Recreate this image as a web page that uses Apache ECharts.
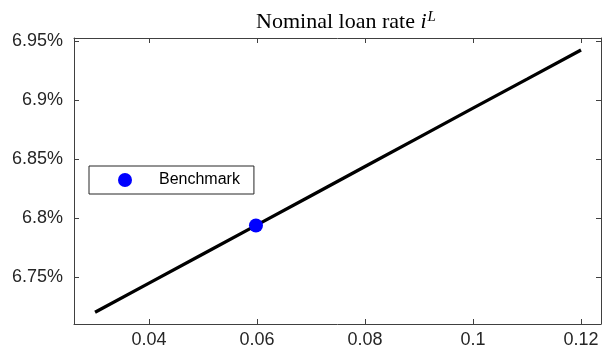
<!DOCTYPE html>
<html>
<head>
<meta charset="utf-8">
<script src="https://cdn.jsdelivr.net/npm/echarts@6/dist/echarts.min.js"></script>
<style>
  html, body { margin: 0; padding: 0; background: #fff; }
  #chart { width: 602px; height: 362px; }
</style>
</head>
<body>
<div id="chart"></div>
<script>
// Reserve-requirement grid (x) and the resulting nominal loan rate, in percent
const reserveRatio = [0.03, 0.04, 0.05, 0.06, 0.07, 0.08, 0.09, 0.10, 0.11, 0.12];
const loanRate = [6.7203, 6.7450, 6.7697, 6.7943, 6.8190, 6.8437, 6.8684, 6.8931, 6.9177, 6.9424];

// Benchmark calibration point
const benchmarkX = [0.0598];
const benchmarkY = [6.7938];

// Axis ticks
const xTicks = [0.04, 0.06, 0.08, 0.10, 0.12];
const yTicks = [6.75, 6.80, 6.85, 6.90, 6.95];

const X_MIN = 0.0261, X_MAX = 0.1237;
const Y_MIN = 6.7104, Y_MAX = 6.9525;

const AXIS_COLOR = '#404040';
const TEXT_COLOR = '#262626';
const SANS = 'Liberation Sans, Arial, Helvetica, sans-serif';
const SERIF = 'Liberation Serif, Times New Roman, serif';

function fmtX(v) { return String(+(+v).toFixed(3)); }
function fmtY(v) { return String(+(+v).toFixed(2)) + '%'; }

function xAxisDef(pos, showLabels) {
  return {
    type: 'value', position: pos, min: X_MIN, max: X_MAX,
    axisLine: { show: true, onZero: false, lineStyle: { color: AXIS_COLOR, width: 1 } },
    axisTick: { show: true, inside: true, length: 5, customValues: xTicks, lineStyle: { color: AXIS_COLOR } },
    axisLabel: {
      show: showLabels, customValues: xTicks, formatter: fmtX,
      color: TEXT_COLOR, fontFamily: SANS, fontSize: 18, margin: 7
    },
    splitLine: { show: false }
  };
}
function yAxisDef(pos, showLabels) {
  return {
    type: 'value', position: pos, min: Y_MIN, max: Y_MAX,
    axisLine: { show: true, onZero: false, lineStyle: { color: AXIS_COLOR, width: 1 } },
    axisTick: { show: true, inside: true, length: 5, customValues: yTicks, lineStyle: { color: AXIS_COLOR } },
    axisLabel: {
      show: showLabels, customValues: yTicks, formatter: fmtY,
      color: TEXT_COLOR, fontFamily: SANS, fontSize: 18, margin: 11
    },
    splitLine: { show: false }
  };
}

const chart = echarts.init(document.getElementById('chart'), null, { renderer: 'canvas' });
chart.setOption({
  animation: false,
  backgroundColor: '#ffffff',
  title: {
    text: '{n|Nominal loan rate }{i|i}{s|L}',
    left: 341, top: 5, textAlign: 'center',
    textStyle: {
      fontWeight: 'normal',
      rich: {
        n: { fontFamily: SERIF, fontSize: 22, fontWeight: 'normal', color: '#000' },
        i: { fontFamily: SERIF, fontSize: 22, fontWeight: 'normal', fontStyle: 'italic', color: '#000' },
        s: { fontFamily: SERIF, fontSize: 15, fontWeight: 'normal', fontStyle: 'italic', color: '#000', padding: [0, 0, 10, 1] }
      }
    }
  },
  grid: { left: 74, right: 1, top: 38, bottom: 38, containLabel: false },
  xAxis: [xAxisDef('bottom', true), xAxisDef('top', false)],
  yAxis: [yAxisDef('left', true), yAxisDef('right', false)],
  legend: {
    data: [{ name: 'Benchmark', icon: 'circle' }],
    left: 89, top: 166,
    orient: 'vertical',
    backgroundColor: '#fff',
    borderColor: '#262626', borderWidth: 1,
    padding: [6, 14, 6, 29],
    itemWidth: 14, itemHeight: 14,
    textStyle: { fontFamily: SANS, fontSize: 16, color: '#000', padding: [0, 0, 0, 22] }
  },
  series: [
    {
      name: 'Loan rate', type: 'line',
      xAxisIndex: 0, yAxisIndex: 0,
      data: reserveRatio.map((x, i) => [x, loanRate[i]]),
      showSymbol: false, symbol: 'none',
      lineStyle: { color: '#000', width: 3.3 },
      z: 2
    },
    {
      name: 'Benchmark', type: 'scatter',
      xAxisIndex: 0, yAxisIndex: 0,
      data: benchmarkX.map((x, i) => [x, benchmarkY[i]]),
      symbol: 'circle', symbolSize: 14,
      itemStyle: { color: '#0000ff', opacity: 1 },
      z: 3
    }
  ]
});
</script>
</body>
</html>
